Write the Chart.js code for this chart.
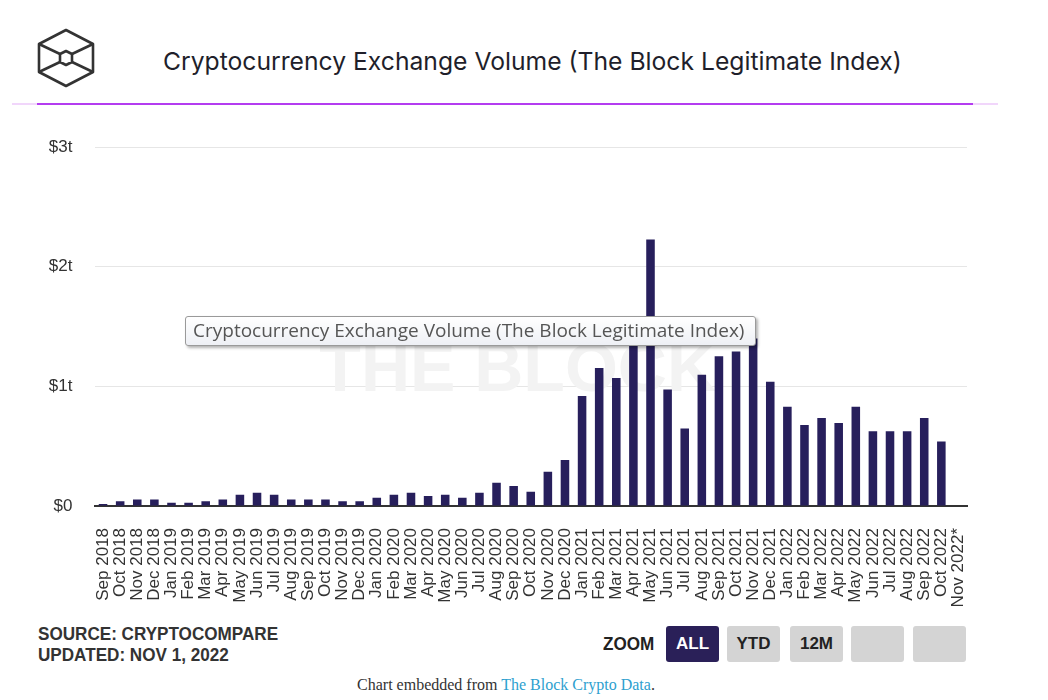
<!DOCTYPE html>
<html>
<head>
<meta charset="utf-8">
<script src="https://cdn.jsdelivr.net/npm/chart.js@4.4.0/dist/chart.umd.min.js"></script>
<style>
  body { margin: 0; width: 1048px; height: 700px; background: #fff; position: relative; overflow: hidden; }
  .titre { position: absolute; left: 163px; top: 46px; font: 24.7px Inter, "Noto Sans", sans-serif; color: #1f1f2b; white-space: nowrap; }
  .ligne { position: absolute; left: 37px; top: 103px; width: 936px; height: 2px; background: #b43cf0; }
  .ligneG { position: absolute; left: 12px; top: 103px; width: 25px; height: 2px; background: #f1d6fb; }
  .ligneD { position: absolute; left: 973px; top: 103px; width: 25px; height: 2px; background: #f1d6fb; }
  #myChart { position: absolute; left: 0; top: 115px; }
  .bulle { position: absolute; left: 185px; top: 316px; width: 571px; height: 30px; box-sizing: border-box;
    border: 1px solid #9a9a9a; border-radius: 3px; background: linear-gradient(#ffffff, #eef0f5);
    box-shadow: 2px 2px 3px rgba(0,0,0,0.3); font: 19px "Open Sans", sans-serif; color: #555;
    line-height: 27px; padding-left: 7px; white-space: nowrap; }
  .etroit { transform: scaleX(0.9); transform-origin: left top; }
  .source { position: absolute; left: 38px; top: 623px; font: bold 19px "Liberation Sans", Arial, sans-serif; color: #333; line-height: 21px; }
  .zoom { position: absolute; left: 603px; top: 633px; font: bold 19px "Liberation Sans", Arial, sans-serif; color: #222; }
  .btn { position: absolute; top: 626px; width: 53px; height: 36px; border-radius: 3px; background: #d4d4d4;
    font: bold 17px "Liberation Sans", Arial, sans-serif; color: #222; text-align: center; line-height: 36px; }
  .btn.actif { background: #2a2058; color: #fff; }
  .pied { position: absolute; left: 0; width: 1012px; top: 676px; text-align: center; font: 16px "Liberation Serif", serif; color: #333; }
  .pied span { color: #2e9fcf; }
</style>
</head>
<body>
<svg style="position:absolute;left:36px;top:28px" width="62" height="62" viewBox="36 28 62 62">
  <g fill="none" stroke="#333" stroke-width="2.6" stroke-linejoin="round">
    <polygon points="66,30 93,44 93,72 66,86 39,72 39,44"/>
    <polygon points="66,51 72,54 72,62 66,65 60,62 60,54"/>
    <line x1="39" y1="44" x2="60" y2="54"/>
    <line x1="93" y1="44" x2="72" y2="54"/>
    <line x1="39" y1="72" x2="60" y2="62"/>
    <line x1="93" y1="72" x2="72" y2="62"/>
  </g>
</svg>
<div class="titre">Cryptocurrency Exchange Volume (The Block Legitimate Index)</div>
<div class="ligneG"></div><div class="ligne"></div><div class="ligneD"></div>

<canvas id="myChart" width="1048" height="500"></canvas>

<div class="bulle">Cryptocurrency Exchange Volume (The Block Legitimate Index)</div>

<div class="source etroit">SOURCE: CRYPTOCOMPARE<br>UPDATED: NOV 1, 2022</div>
<div class="zoom etroit">ZOOM</div>
<div class="btn actif" style="left:666px">ALL</div>
<div class="btn" style="left:727px">YTD</div>
<div class="btn" style="left:790px">12M</div>
<div class="btn" style="left:851px"></div>
<div class="btn" style="left:913px"></div>
<div class="pied">Chart embedded from <span>The Block Crypto Data</span>.</div>

<script>
// mois (axe x)
const mois = [
  'Sep 2018', 'Oct 2018', 'Nov 2018', 'Dec 2018',
  'Jan 2019', 'Feb 2019', 'Mar 2019', 'Apr 2019', 'May 2019', 'Jun 2019',
  'Jul 2019', 'Aug 2019', 'Sep 2019', 'Oct 2019', 'Nov 2019', 'Dec 2019',
  'Jan 2020', 'Feb 2020', 'Mar 2020', 'Apr 2020', 'May 2020', 'Jun 2020',
  'Jul 2020', 'Aug 2020', 'Sep 2020', 'Oct 2020', 'Nov 2020', 'Dec 2020',
  'Jan 2021', 'Feb 2021', 'Mar 2021', 'Apr 2021', 'May 2021', 'Jun 2021',
  'Jul 2021', 'Aug 2021', 'Sep 2021', 'Oct 2021', 'Nov 2021', 'Dec 2021',
  'Jan 2022', 'Feb 2022', 'Mar 2022', 'Apr 2022', 'May 2022', 'Jun 2022',
  'Jul 2022', 'Aug 2022', 'Sep 2022', 'Oct 2022', 'Nov 2022*'
];

// volume en milliers de milliards de $
const volume = [
  0.017, 0.04, 0.055, 0.055,
  0.028, 0.028, 0.04, 0.055, 0.095, 0.11,
  0.095, 0.055, 0.055, 0.055, 0.04, 0.04,
  0.07, 0.095, 0.11, 0.083, 0.095, 0.07,
  0.11, 0.195, 0.167, 0.12, 0.287, 0.385,
  0.92, 1.153, 1.07, 1.48, 2.228, 0.975,
  0.649, 1.097, 1.253, 1.292, 1.40, 1.039,
  0.83, 0.677, 0.735, 0.694, 0.83, 0.624,
  0.624, 0.624, 0.735, 0.54, null
];

const ticksY = [0, 1, 2, 3];

const filigrane = {
  id: 'filigrane',
  beforeDatasetsDraw(chart) {
    const { ctx, chartArea } = chart;
    ctx.save();
    ctx.font = 'bold 68px "Liberation Sans", Arial, sans-serif';
    ctx.fillStyle = '#f3f3f3';
    ctx.textAlign = 'center';
    ctx.fillText('THE BLOCK', chartArea.left + chartArea.width * 0.485, chartArea.top + chartArea.height * 0.68);
    ctx.restore();
  }
};

const ctx = document.getElementById('myChart');
const myNewChart = new Chart(ctx, {
  type: 'bar',
  data: {
    labels: mois,
    datasets: [{
      label: 'Cryptocurrency Exchange Volume (The Block Legitimate Index)',
      data: volume,
      backgroundColor: '#271f5c',
      barPercentage: 0.5,
      categoryPercentage: 1
    }]
  },
  options: {
    responsive: false,
    animation: false,
    layout: { padding: { top: 22, right: 81, left: 0, bottom: 0 } },
    plugins: { legend: { display: false }, tooltip: { enabled: false } },
    scales: {
      x: {
        grid: { display: false, drawTicks: false },
        border: { display: true, color: '#333', width: 2 },
        ticks: {
          autoSkip: false, minRotation: 90, maxRotation: 90, padding: 22,
          color: '#333', font: { family: '"Liberation Sans", Arial, sans-serif', size: 17 }
        },
        afterFit: (scale) => { scale.height = 109; }
      },
      y: {
        min: 0, max: 3,
        afterBuildTicks: (scale) => { scale.ticks = ticksY.map(v => ({ value: v })); },
        grid: { color: '#e6e6e6', drawTicks: false },
        border: { display: false },
        ticks: {
          padding: 22, color: '#333',
          font: { family: '"Liberation Sans", Arial, sans-serif', size: 17 },
          callback: (v) => v === 0 ? '$0' : '$' + v + 't'
        },
        afterFit: (scale) => { scale.width = 94.5; }
      }
    }
  },
  plugins: [filigrane]
});
</script>
</body>
</html>
